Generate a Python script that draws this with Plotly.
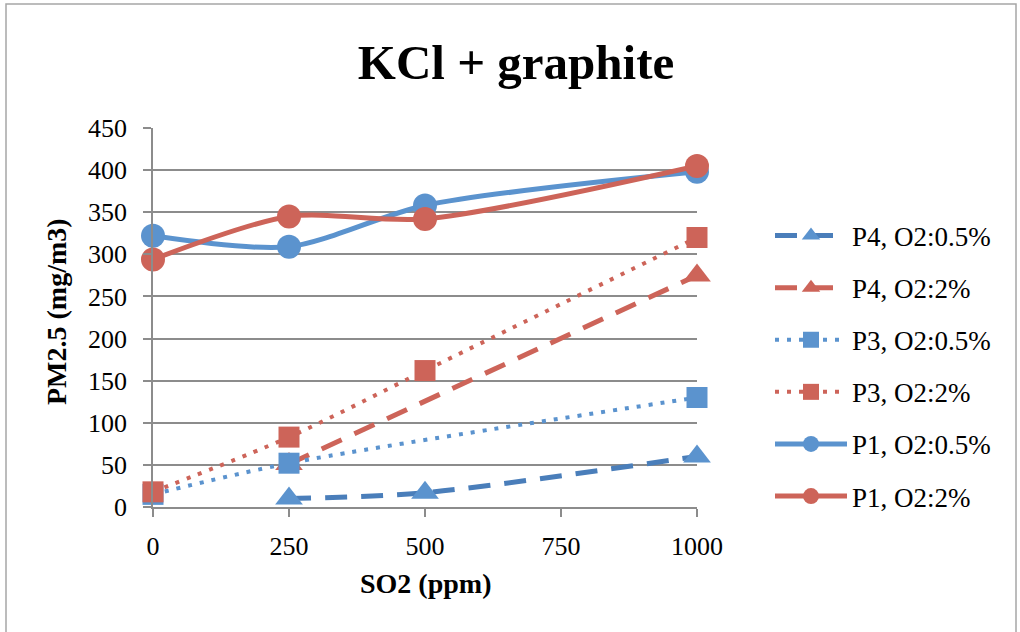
import plotly.graph_objects as go

so2 = [0, 250, 500, 1000]
p4_05 = [None, 10, 17, 60]
p4_2 = [None, 51, None, 275]
p3_05 = [15, 52, None, 130]
p3_2 = [18, 83, 162, 320]
p1_05 = [322, 309, 358, 398]
p1_2 = [294, 345, 342, 405]

names = ["P4, O2:0.5%", "P4, O2:2%", "P3, O2:0.5%", "P3, O2:2%", "P1, O2:0.5%", "P1, O2:2%"]

BLUE = "#5B93CE"
BLUE_D = "#4A7EBA"
RED = "#CD6459"
FONT = "Liberation Serif"

series = [
    (p4_05, names[0], BLUE_D, "22px,14px", "triangle-up", 24, 5),
    (p4_2, names[1], RED, "22px,14px", "triangle-up", 24, 5),
    (p3_05, names[2], BLUE, "4px,8px", "square", 21, 4),
    (p3_2, names[3], RED, "4px,8px", "square", 21, 4),
    (p1_05, names[4], BLUE, "solid", "circle", 24, 5),
    (p1_2, names[5], RED, "solid", "circle", 24, 5),
]

fig = go.Figure()
for i, (vals, name, col, dash, sym, msize, lw) in enumerate(series):
    mcol = BLUE if col == BLUE_D else col
    fig.add_trace(go.Scatter(
        x=so2, y=vals, name=name, mode="lines+markers",
        connectgaps=True, legendgroup=f"g{i}", cliponaxis=False,
        line=dict(color=col, width=lw, dash=dash, shape="spline", smoothing=0.8),
        marker=dict(symbol=sym, size=msize, color=mcol, line=dict(width=0)),
    ))

L, R, T, B = 153, 697, 128, 507
W, H = 1020, 632

fig.update_layout(
    width=W, height=H,
    margin=dict(l=L, r=W - R, t=T, b=H - B),
    paper_bgcolor="white", plot_bgcolor="white",
    font=dict(family=FONT, size=26, color="black"),
    title=dict(text="<b>KCl + graphite</b>", x=516 / W, xanchor="center",
               y=1 - 62 / H, yanchor="middle",
               font=dict(family=FONT, size=49, color="black")),
    showlegend=True,
    legend=dict(x=(770 - L) / (R - L), xanchor="left", y=(B - 366) / (B - T), yanchor="middle",
                itemwidth=72, tracegroupgap=14, traceorder="grouped",
                font=dict(family=FONT, size=27), bgcolor="rgba(0,0,0,0)"),
    xaxis=dict(range=[0, 1000], tickvals=[0, 250, 500, 750, 1000],
               showgrid=False, zeroline=False, showline=True, linecolor="#8C8C8C", linewidth=1.5,
               ticks="outside", ticklen=8, tickcolor="#8C8C8C", tickwidth=1.5,
               ticklabelstandoff=7, fixedrange=True),
    yaxis=dict(range=[0, 450], tickvals=list(range(0, 451, 50)),
               showgrid=True, gridcolor="#8C8C8C", gridwidth=1.5,
               zeroline=False, showline=True, linecolor="#8C8C8C", linewidth=1.5,
               ticks="outside", ticklen=8, tickcolor="#8C8C8C", tickwidth=1.5,
               ticklabelstandoff=11, fixedrange=True),
    annotations=[
        dict(text="<b>PM2.5 (mg/m3)</b>", x=(56 - L) / (R - L), y=(B - 312) / (B - T),
             xref="paper", yref="paper", textangle=-90, showarrow=False,
             xanchor="center", yanchor="middle", font=dict(family=FONT, size=28)),
        dict(text="<b>SO2 (ppm)</b>", x=(425 - L) / (R - L), y=(B - 583) / (B - T),
             xref="paper", yref="paper", showarrow=False,
             xanchor="center", yanchor="middle", font=dict(family=FONT, size=28)),
    ],
    shapes=[dict(type="rect", xref="paper", yref="paper",
                 x0=(6 - L) / (R - L), x1=(1016 - L) / (R - L),
                 y0=(B - 700) / (B - T), y1=(B - 4) / (B - T),
                 line=dict(color="#A6A6A6", width=1.5), layer="below")],
)

fig.write_html("out.html")
